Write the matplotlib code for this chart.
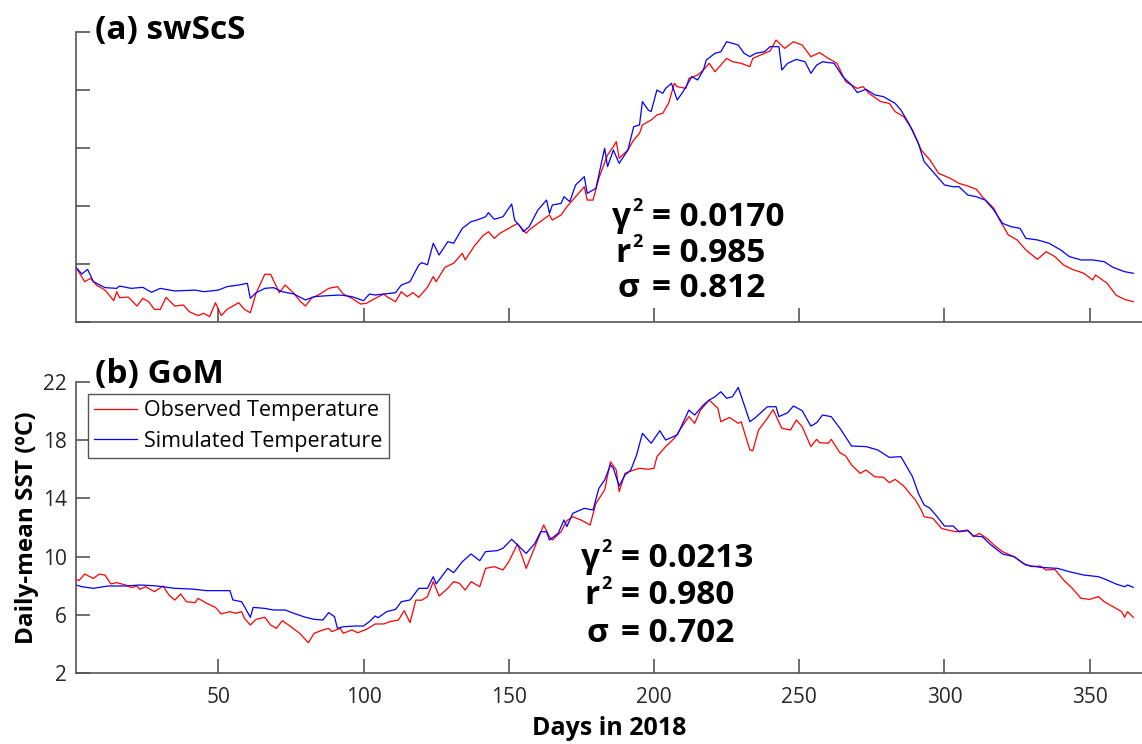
import matplotlib
matplotlib.use("Agg")
import matplotlib.pyplot as plt

plt.rcParams['font.family'] = ['Open Sans', 'DejaVu Sans']

# (a) swScS - observed
a_obs_day = [1, 4, 6, 8, 11, 14, 15, 16, 19, 22, 24, 26, 28, 30, 32, 35, 38, 40, 43, 45, 47, 49, 51, 53, 57, 59,
             61, 63, 66, 68, 71, 73, 76, 78, 80, 82, 85, 88, 91, 93, 96, 99, 101, 104, 107, 108, 111, 113, 115, 117,
             119, 122, 124, 125, 128, 131, 134, 135, 138, 141, 143, 145, 147, 150, 153, 156, 157, 160, 164, 165, 168,
             170, 173, 176, 177, 179, 181, 184, 186, 187, 188, 191, 193, 195, 196, 199, 201, 203, 205, 207, 208, 211,
             212, 215, 217, 219, 221, 223, 225, 227, 230, 233, 234, 238, 240, 242, 245, 248, 251, 254, 257, 260, 263,
             266, 270, 272, 274, 278, 281, 283, 286, 289, 290, 292, 295, 298, 302, 305, 308, 311, 313, 317, 319, 322,
             325, 328, 332, 335, 338, 341, 344, 348, 351, 352, 356, 359, 362, 365]
a_obs = [5.77, 4.78, 5.01, 4.55, 4.2, 3.47, 4.09, 3.68, 3.72, 3.10, 3.63, 3.4, 2.87, 2.87, 3.70, 3.10, 3.17, 2.71,
         2.44, 2.6, 2.37, 3.33, 2.44, 2.87, 3.33, 2.87, 2.64, 3.98, 5.29, 5.29, 4.02, 4.55, 3.98, 3.47, 3.10, 3.63,
         3.93, 4.32, 4.44, 3.93, 3.63, 3.24, 3.29, 3.63, 3.93, 3.75, 3.40, 4.09, 3.75, 4.02, 3.7, 4.4, 5.13, 4.78,
         5.77, 6.05, 6.74, 6.28, 7.2, 7.93, 8.23, 7.77, 8.12, 8.46, 8.8, 8.12, 8.35, 8.8, 9.38, 9.03, 9.38, 9.95,
         10.64, 11.33, 10.41, 10.41, 11.91, 13.52, 14.09, 14.44, 13.29, 13.86, 14.55, 15.01, 15.59, 15.93, 16.28,
         16.39, 17.08, 18.46, 18.23, 18.11, 18.8, 19.03, 19.38, 19.84, 19.26, 19.72, 20.18, 19.95, 19.84, 19.61,
         20.18, 20.53, 20.7, 21.45, 20.87, 21.33, 21.1, 20.3, 20.58, 20.18, 19.84, 18.57, 18.11, 18.23, 17.77, 17.2,
         17.08, 16.51, 16.16, 15.24, 14.78, 13.86, 13.17, 12.25, 11.91, 11.56, 11.38, 11.15, 10.64, 9.84, 9.03, 8.0,
         7.66, 6.97, 6.32, 6.85, 6.51, 5.93, 5.63, 5.36, 4.9, 5.24, 4.67, 3.86, 3.56, 3.4]

# (a) swScS - simulated
a_sim_day = [1, 3, 5, 7, 11, 15, 16, 20, 24, 27, 30, 35, 42, 45, 50, 53, 57, 60, 61, 63, 66, 69, 72, 76, 80, 83, 88,
             92, 96, 100, 102, 104, 107, 111, 113, 116, 119, 120, 122, 124, 126, 129, 131, 134, 137, 139, 142, 143,
             145, 148, 151, 152, 154, 155, 157, 160, 163, 164, 165, 168, 169, 171, 173, 176, 177, 180, 181, 183, 184,
             186, 188, 191, 193, 195, 196, 198, 199, 201, 203, 204, 206, 208, 210, 213, 215, 217, 218, 221, 223, 225,
             227, 229, 231, 233, 235, 238, 240, 243, 244, 246, 249, 252, 254, 256, 258, 262, 265, 268, 270, 273, 276,
             279, 283, 285, 288, 291, 293, 296, 300, 303, 305, 308, 311, 314, 317, 320, 323, 326, 328, 332, 336, 340,
             343, 347, 351, 355, 358, 362, 365]
a_sim = [5.77, 5.31, 5.63, 4.78, 4.37, 4.32, 4.48, 4.32, 4.39, 4.05, 4.32, 4.14, 4.2, 4.09, 4.2, 4.44, 4.55, 4.67,
         3.63, 4.02, 4.32, 4.37, 4.09, 3.93, 3.52, 3.75, 3.82, 3.86, 3.75, 3.47, 3.93, 3.86, 3.93, 4.02, 4.55, 4.78,
         5.93, 6.09, 5.95, 7.43, 6.62, 7.54, 7.43, 8.46, 8.92, 9.03, 9.26, 9.54, 9.08, 9.26, 10.14, 9.03, 8.57, 8.23,
         8.57, 9.72, 10.41, 9.49, 10.07, 10.18, 10.64, 10.30, 11.45, 12.02, 10.87, 11.22, 12.14, 13.98, 12.71, 13.86,
         12.94, 13.86, 15.47, 15.59, 17.2, 16.62, 16.51, 18.0, 17.77, 18.11, 18.46, 17.31, 17.89, 18.92, 18.69,
         19.38, 20.07, 20.53, 20.64, 21.33, 21.22, 21.10, 20.53, 20.3, 20.53, 20.64, 20.99, 20.99, 19.38, 19.84,
         20.11, 19.95, 19.15, 19.72, 19.95, 19.84, 18.92, 18.34, 17.82, 18.05, 17.66, 17.54, 17.08, 16.62, 15.59,
         14.32, 13.06, 12.37, 11.45, 11.33, 11.33, 10.76, 10.64, 10.41, 9.72, 8.8, 8.57, 8.46, 7.77, 7.66, 7.43,
         6.97, 6.51, 6.28, 6.28, 6.16, 5.77, 5.47, 5.36]

# (b) GoM - observed
b_obs_day = [1, 2, 4, 7, 9, 11, 13, 15, 18, 20, 22, 23, 25, 28, 31, 33, 35, 37, 39, 42, 43, 46, 49, 51, 54, 56, 58,
             59, 61, 63, 66, 68, 70, 72, 75, 78, 81, 83, 86, 88, 89, 92, 93, 96, 98, 101, 104, 107, 109, 112, 114,
             116, 118, 120, 122, 124, 126, 129, 131, 133, 135, 137, 140, 142, 145, 148, 150, 153, 155, 156, 159, 162,
             164, 165, 168, 170, 172, 175, 178, 180, 183, 185, 187, 188, 190, 193, 195, 198, 200, 201, 204, 207, 210,
             212, 214, 216, 219, 222, 223, 226, 229, 230, 233, 234, 236, 239, 241, 244, 247, 249, 251, 254, 256, 257,
             260, 261, 264, 266, 268, 271, 273, 276, 279, 281, 283, 286, 288, 290, 292, 293, 296, 299, 301, 304, 308,
             310, 312, 315, 317, 320, 324, 327, 330, 333, 335, 338, 341, 344, 347, 350, 353, 355, 358, 361, 362, 363,
             365]
b_obs = [8.44, 8.35, 8.80, 8.50, 8.80, 8.73, 8.12, 8.21, 8.05, 7.87, 7.98, 7.75, 7.93, 7.59, 7.98, 7.36, 7.01,
         7.43, 6.90, 6.83, 7.13, 6.79, 6.51, 6.06, 6.22, 6.10, 6.22, 5.76, 5.30, 5.69, 5.83, 5.30, 5.07, 5.60, 5.18,
         4.73, 4.08, 4.73, 4.96, 5.07, 4.84, 5.07, 4.73, 4.96, 4.77, 5.0, 5.37, 5.37, 5.53, 5.64, 6.28, 5.46, 7.01,
         7.0, 7.25, 8.28, 7.29, 7.82, 8.28, 8.16, 7.70, 8.28, 7.93, 9.19, 9.31, 9.08, 9.65, 10.87, 9.77, 9.19, 10.68,
         12.17, 11.37, 11.14, 11.71, 12.47, 12.74, 12.5, 12.17, 13.66, 14.58, 16.52, 15.95, 14.46, 15.72, 15.95,
         16.07, 16.0, 16.07, 16.87, 17.56, 18.13, 19.04, 19.62, 19.16, 20.07, 20.76, 20.19, 19.27, 19.57, 19.16,
         19.27, 17.33, 17.28, 18.70, 19.50, 20.1, 18.82, 18.7, 19.39, 18.93, 17.56, 18.06, 17.83, 17.79, 18.06,
         17.14, 16.91, 16.3, 15.72, 15.95, 15.49, 15.45, 15.08, 15.31, 14.85, 14.35, 13.89, 13.2, 12.74, 12.63,
         11.94, 11.83, 11.71, 11.83, 11.37, 11.6, 11.19, 10.8, 10.34, 9.99, 9.54, 9.31, 9.35, 9.08, 9.12, 8.39,
         7.82, 7.13, 7.06, 7.25, 6.9, 6.56, 6.22, 5.83, 6.22, 5.83]

# (b) GoM - simulated
b_sim_day = [1, 3, 7, 12, 18, 23, 29, 35, 41, 46, 51, 54, 55, 58, 59, 61, 62, 66, 69, 73, 76, 80, 83, 86, 88, 90,
             91, 93, 97, 100, 102, 104, 105, 108, 111, 113, 116, 119, 122, 124, 125, 129, 131, 134, 137, 140, 142,
             146, 148, 151, 153, 156, 159, 161, 163, 164, 167, 169, 170, 172, 176, 179, 181, 183, 185, 186, 188, 190,
             192, 194, 196, 199, 202, 204, 208, 210, 212, 214, 217, 219, 221, 223, 225, 227, 229, 233, 235, 239, 242,
             243, 246, 248, 251, 254, 256, 258, 261, 264, 268, 273, 277, 281, 285, 287, 289, 291, 293, 295, 297, 300,
             303, 305, 308, 310, 313, 316, 320, 324, 328, 333, 339, 343, 348, 353, 356, 359, 362, 363, 365]
b_sim = [8.05, 7.93, 7.82, 7.98, 7.98, 8.05, 7.98, 7.82, 7.77, 7.66, 7.66, 7.66, 7.02, 6.90, 6.56, 5.83, 6.51, 6.44,
         6.33, 6.33, 6.10, 5.83, 5.69, 5.64, 6.15, 5.87, 5.07, 5.18, 5.23, 5.23, 5.53, 5.92, 5.80, 6.22, 6.37, 6.90,
         7.02, 7.82, 7.82, 8.62, 8.12, 9.19, 8.89, 9.65, 10.18, 9.72, 10.34, 10.41, 10.57, 11.19, 10.80, 10.22,
         10.91, 11.71, 11.71, 11.14, 11.6, 12.52, 12.06, 12.97, 13.32, 13.2, 14.69, 15.26, 16.30, 16.07, 14.85,
         15.61, 15.95, 16.98, 18.47, 17.79, 18.65, 18.01, 18.36, 19.20, 20.07, 19.73, 20.42, 20.76, 20.99, 21.33,
         20.88, 20.99, 21.63, 19.27, 19.57, 20.3, 20.3, 19.62, 19.89, 20.35, 20.03, 18.97, 19.2, 19.73, 19.62, 18.82,
         17.6, 17.56, 17.33, 16.82, 16.87, 16.18, 15.49, 14.35, 13.55, 13.32, 12.86, 12.1, 12.1, 11.71, 11.78, 11.42,
         11.37, 10.8, 10.18, 9.99, 9.42, 9.26, 9.19, 8.96, 8.73, 8.62, 8.39, 8.12, 7.93, 8.05, 7.89]

yticks = [2, 6, 10, 14, 18, 22]
xticks = [50, 100, 150, 200, 250, 300, 350]

W, H = 1142, 744
fig = plt.figure(figsize=(W / 100, H / 100), dpi=100)
ax1 = fig.add_axes([76 / W, 1 - 322 / H, 1066 / W, 290 / H])
ax2 = fig.add_axes([76 / W, 1 - 673 / H, 1066 / W, 291 / H])

for ax in (ax1, ax2):
    ax.set_xlim(1, 368)
    ax.set_ylim(2, 22)
    ax.set_xticks(xticks)
    ax.set_yticks(yticks)
    for s in ('top', 'right'):
        ax.spines[s].set_visible(False)
    for s in ('left', 'bottom'):
        ax.spines[s].set_color('#555555')
        ax.spines[s].set_linewidth(1.2)
    ax.tick_params(direction='in', length=10, width=1.2, color='#555555',
                   labelsize=15, labelcolor='#262626')
    ax.tick_params(axis='x', pad=10)
    ax.tick_params(axis='y', pad=6.5)

ax1.plot(a_obs_day, a_obs, color='#ff0000', lw=0.9)
ax1.plot(a_sim_day, a_sim, color='#0000ff', lw=0.9)
ax1.tick_params(labelleft=False, labelbottom=False)

ax2.plot(b_obs_day, b_obs, color='#ff0000', lw=0.9, label='Observed Temperature')
ax2.plot(b_sim_day, b_sim, color='#0000ff', lw=0.9, label='Simulated Temperature')


def ptext(px, py, s, size, ha='left'):
    # text placed by pixel position (baseline)
    fig.text(px / W, 1 - py / H, s, fontsize=size, fontweight='bold',
             ha=ha, va='baseline')


ptext(95, 39, '(a) swScS', 24)
ptext(95, 383, '(b) GoM', 24)

stats_a = [('γ', '2', '0.0170'), ('r', '2', '0.985'), ('σ', '', '0.812')]
stats_b = [('γ', '2', '0.0213'), ('r', '2', '0.980'), ('σ', '', '0.702')]
for stats, xeq, bases in ((stats_a, 652, [226, 262, 297]),
                          (stats_b, 621, [567, 604, 642])):
    for (lab, sup, val), yb in zip(stats, bases):
        if sup:
            ptext(xeq - 21, yb, lab, 24, ha='right')
            ptext(xeq - 20, yb - 15, sup, 13)
        else:
            ptext(xeq - 13, yb, lab, 24, ha='right')
        ptext(xeq, yb, '= ' + val, 24)

leg = ax2.legend(loc='upper left', bbox_to_anchor=(0.011, 0.96), fontsize=15.5,
                 frameon=True, fancybox=False, framealpha=1, edgecolor='#555555',
                 handlelength=2.0, handletextpad=0.3, borderpad=0.3,
                 labelspacing=0.45, borderaxespad=0)
leg.get_frame().set_linewidth(1.0)

ax2.set_xlabel('Days in 2018', fontsize=18, fontweight='bold', labelpad=6)
ax2.set_ylabel('Daily-mean SST (ºC)', fontsize=17.5, fontweight='bold', labelpad=3)

fig.savefig('out.png', dpi=100)
